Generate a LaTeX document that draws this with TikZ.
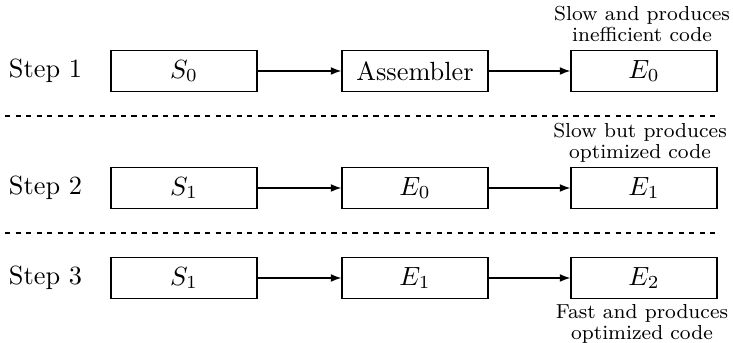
\documentclass[tikz,border=0pt]{standalone}
\usetikzlibrary{arrows.meta}
\begin{document}
\begin{tikzpicture}[x=0.38pt,y=-0.38pt,
  box/.style={draw,line width=0.5pt,minimum width=55.5pt,minimum height=15.4pt,inner sep=0pt},
  flow/.style={-{Latex[length=4pt,width=3pt]},line width=0.5pt},
  sepline/.style={dash pattern=on 2pt off 2pt,line width=0.45pt},
  note/.style={align=center,font=\fontsize{7.7}{6.6}\selectfont,inner sep=0pt},
  steplabel/.style={inner sep=0pt}]
\useasboundingbox (0,0) rectangle (733,343);
% Row 1
\node[steplabel] (st1) at (45.5,71) {Step 1};
\node[box] (a1) at (184,71) {$S_0$};
\node[box] (b1) at (415,71) {Assembler};
\node[box] (c1) at (644,71) {$E_0$};
\draw[flow] (a1) -- (b1);
\draw[flow] (b1) -- (c1);
\node[note] (n1) at (642,24) {Slow and produces\\inefficient code};
% separator
\coordinate (d1l) at (5,116);
\coordinate (d1r) at (715,116);
\draw[sepline] (d1l) -- (d1r);
% Row 2
\node[steplabel] (st2) at (45.5,188) {Step 2};
\node[box] (a2) at (184,188) {$S_1$};
\node[box] (b2) at (415,188) {$E_0$};
\node[box] (c2) at (644,188) {$E_1$};
\draw[flow] (a2) -- (b2);
\draw[flow] (b2) -- (c2);
\node[note] (n2) at (640,143) {Slow but produces\\optimized code};
% separator
\coordinate (d2l) at (5,233);
\coordinate (d2r) at (715,233);
\draw[sepline] (d2l) -- (d2r);
% Row 3
\node[steplabel] (st3) at (45.5,278) {Step 3};
\node[box] (a3) at (184,278) {$S_1$};
\node[box] (b3) at (415,278) {$E_1$};
\node[box] (c3) at (644,278) {$E_2$};
\draw[flow] (a3) -- (b3);
\draw[flow] (b3) -- (c3);
\node[note] (n3) at (642,324) {Fast and produces\\optimized code};
\end{tikzpicture}
\end{document}
